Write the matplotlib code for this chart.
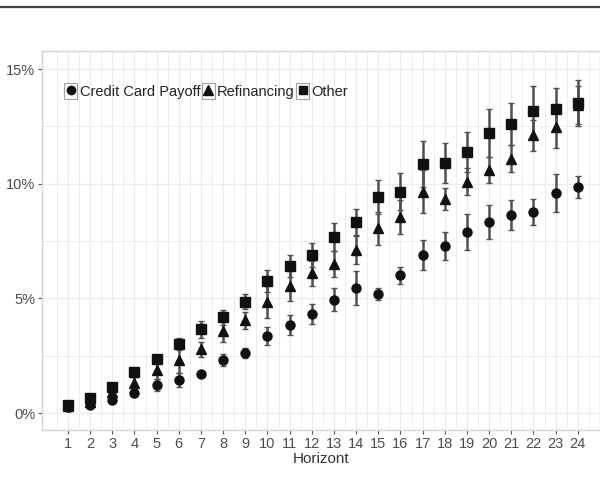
import matplotlib
matplotlib.use("Agg")
import matplotlib.pyplot as plt
from matplotlib.lines import Line2D
from matplotlib.patches import Rectangle
from matplotlib.legend_handler import HandlerTuple
from matplotlib.ticker import FixedLocator, PercentFormatter

horizons = list(range(1, 25))
series_names = ["Credit Card Payoff", "Refinancing", "Other"]

credit = [0.28, 0.35, 0.57, 0.86, 1.22, 1.45, 1.70, 2.31, 2.62, 3.37, 3.84, 4.33,
          4.95, 5.45, 5.19, 6.01, 6.89, 7.28, 7.89, 8.33, 8.63, 8.77, 9.59, 9.86]
credit_err = [0.2, 0.1, 0.15, 0.15, 0.25, 0.3, 0.1, 0.27, 0.22, 0.39, 0.44, 0.44,
              0.52, 0.74, 0.26, 0.38, 0.67, 0.6, 0.77, 0.74, 0.64, 0.56, 0.84, 0.48]

refin = [0.3, 0.5, 0.93, 1.29, 1.88, 2.31, 2.78, 3.58, 4.04, 4.83, 5.55, 6.09,
         6.5, 7.11, 8.05, 8.56, 9.65, 9.33, 10.09, 10.6, 11.09, 12.12, 12.46, 13.43]
refin_err = [0.2, 0.15, 0.2, 0.3, 0.4, 0.55, 0.33, 0.5, 0.37, 0.7, 0.65, 0.55,
             0.55, 0.6, 0.73, 0.74, 0.94, 0.48, 0.58, 0.58, 0.6, 0.68, 0.92, 0.83]

other = [0.33, 0.67, 1.15, 1.77, 2.34, 3.01, 3.65, 4.17, 4.85, 5.74, 6.41, 6.89,
         7.69, 8.33, 9.41, 9.65, 10.85, 10.89, 11.37, 12.22, 12.59, 13.18, 13.26, 13.53]
other_err = [0.2, 0.15, 0.15, 0.2, 0.2, 0.25, 0.36, 0.32, 0.32, 0.48, 0.47, 0.51,
             0.61, 0.57, 0.75, 0.8, 1.0, 0.87, 0.87, 1.04, 0.91, 1.08, 0.9, 1.0]

y_ticks = [0, 5, 10, 15]

plt.rcParams['font.family'] = ['Liberation Sans', 'DejaVu Sans']

fig = plt.figure(figsize=(6.0, 4.94), dpi=100)
ax = fig.add_axes([0.07, 0.1296, 0.93, 0.7672])

# top rule
fig.add_artist(Line2D([0, 1], [0.986, 0.986], transform=fig.transFigure,
                      color='#444444', lw=1.6))

ax.set_xlim(-0.17, 25.0)
ax.set_ylim(-0.74, 15.79)

grid_c = '#ececec'
ax.set_xticks(horizons)
ax.set_xticks([h + 0.5 for h in range(0, 25)], minor=True)
ax.yaxis.set_major_locator(FixedLocator(y_ticks))
ax.yaxis.set_minor_locator(FixedLocator([2.5, 7.5, 12.5]))
ax.yaxis.set_major_formatter(PercentFormatter(decimals=0))
ax.grid(True, which='major', color=grid_c, lw=0.9)
ax.grid(True, which='minor', color=grid_c, lw=0.7)
ax.set_axisbelow(True)

for s in ax.spines.values():
    s.set_color('#d4d4d4')
    s.set_linewidth(1.0)

ax.tick_params(axis='both', which='major', colors='#555555', labelcolor='#4d4d4d',
               length=3, width=0.8, labelsize=10.5, pad=2)
ax.tick_params(axis='both', which='minor', length=0)

ax.set_xlabel("Horizont", fontsize=11, color='#333333', labelpad=1)

ebar_kw = dict(ls='none', ecolor='#505050', elinewidth=1.8, capsize=2, capthick=1.0,
               color='#111111')
ax.errorbar(horizons, other, yerr=other_err, marker='s', ms=6.5, **ebar_kw)
ax.errorbar(horizons, refin, yerr=refin_err, marker='^', ms=7.5, **ebar_kw)
ax.errorbar(horizons, credit, yerr=credit_err, marker='o', ms=6.5, **ebar_kw)

markers = ['o', '^', 's']
handles = []
for m in markers:
    box = Rectangle((0, 0), 1, 1, facecolor='white', edgecolor='#a0a0a0', lw=0.8)
    mk = Line2D([], [], marker=m, ls='none', color='#111111', ms=7 if m == '^' else 6)
    handles.append((box, mk))

leg = ax.legend(handles, series_names, ncol=3, loc='center left',
                bbox_to_anchor=(0.04, 0.894), frameon=False,
                handler_map={tuple: HandlerTuple(ndivide=1, pad=0)},
                handlelength=0.9, handleheight=1.25, handletextpad=0.15,
                columnspacing=0.1, fontsize=10.5, borderaxespad=0, borderpad=0)
for t in leg.get_texts():
    t.set_color('#222222')

fig.savefig("out.png", dpi=100)
